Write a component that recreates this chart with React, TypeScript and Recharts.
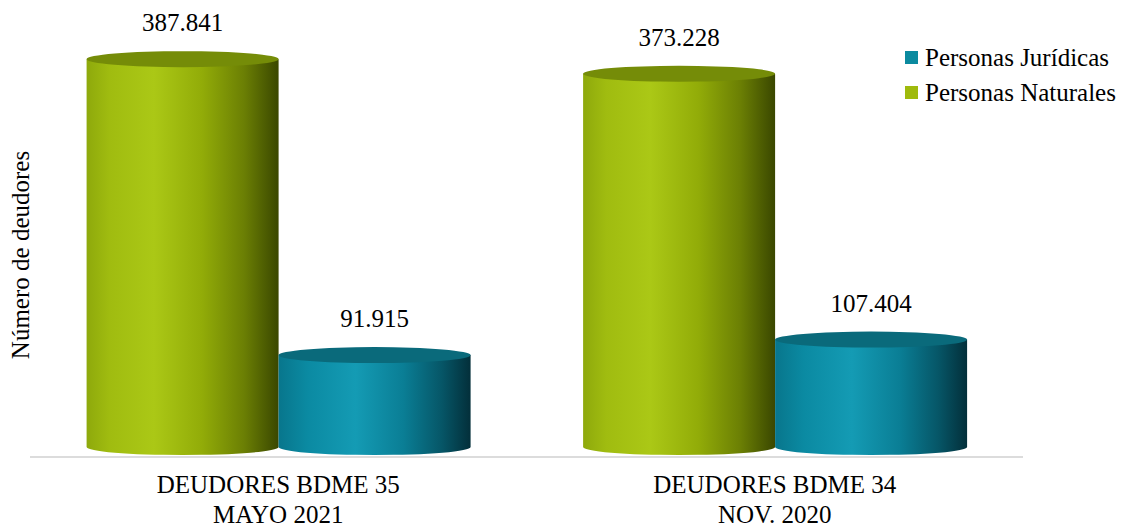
import React from 'react'
import { BarChart, Bar, XAxis, YAxis, LabelList, Legend } from 'recharts'

const categoryLine1 = ['DEUDORES BDME 35', 'DEUDORES BDME 34']
const categoryLine2 = ['MAYO 2021', 'NOV. 2020']
const personasNaturales = [387841, 373228]
const personasJuridicas = [91915, 107404]
const legendOrder = ['Personas Jurídicas', 'Personas Naturales']

const data = categoryLine1.map((c, i) => ({
  name: c + '\n' + categoryLine2[i],
  naturales: personasNaturales[i],
  juridicas: personasJuridicas[i]
}))

const FONT = '"Liberation Serif", "Times New Roman", serif'

const fmt = (v: number) => String(v).replace(/\B(?=(\d{3})+(?!\d))/g, '.')

// cilindro: cuerpo con degradado + tapa eliptica
const Cylinder = (props: any) => {
  const { x, y, width, height, gradId, topColor } = props
  const ry = 8
  const rx = width / 2
  const bottom = y + height
  const d = `M${x},${y} L${x},${bottom} A${rx},${ry} 0 0 0 ${x + width},${bottom} L${x + width},${y} Z`
  return (
    <g>
      <path d={d} fill={`url(#${gradId})`} />
      <ellipse cx={x + rx} cy={y} rx={rx} ry={ry} fill={topColor} />
    </g>
  )
}

const CategoryTick = (props: any) => {
  const { x, y, payload } = props
  const [l1, l2] = String(payload.value).split('\n')
  return (
    <text x={x} y={y} textAnchor="middle" style={{ fontFamily: FONT, fontSize: 25 }} fill="#000">
      <tspan x={x} dy={36}>{l1}</tspan>
      <tspan x={x} dy={30}>{l2}</tspan>
    </text>
  )
}

const LegendContent = (props: any) => {
  const items = [...(props.payload || [])].sort(
    (a: any, b: any) => legendOrder.indexOf(a.value) - legendOrder.indexOf(b.value)
  )
  return (
    <div style={{ fontFamily: FONT, fontSize: 25, color: '#000', whiteSpace: 'nowrap' }}>
      {items.map((it: any) => (
        <div key={it.value} style={{ display: 'flex', alignItems: 'center', height: 35 }}>
          <span style={{ width: 13, height: 13, background: it.color, display: 'inline-block', marginRight: 7 }} />
          <span>{it.value}</span>
        </div>
      ))}
    </div>
  )
}

const YLabel = (props: any) => {
  const { viewBox } = props
  const cx = viewBox.x + 20
  const cy = viewBox.y + viewBox.height / 2 + 23
  return (
    <text x={cx} y={cy} transform={`rotate(-90, ${cx}, ${cy})`} textAnchor="middle" dominantBaseline="central"
      style={{ fontFamily: FONT, fontSize: 25 }} fill="#000">
      Número de deudores
    </text>
  )
}

export default function App() {
  return (
    <div style={{ position: 'absolute', left: 0, top: 0, background: '#fff' }}>
      <BarChart width={1125} height={529} data={data} barCategoryGap="11.4%" barGap={0}
        margin={{ top: 7, right: 102, left: 0, bottom: 0 }}>
        <defs>
          <linearGradient id="gradGreen" x1="0" y1="0" x2="1" y2="0">
            <stop offset="0%" stopColor="#8ea90c" />
            <stop offset="12%" stopColor="#a0bc10" />
            <stop offset="35%" stopColor="#abc816" />
            <stop offset="60%" stopColor="#92ac08" />
            <stop offset="82%" stopColor="#6b7f04" />
            <stop offset="100%" stopColor="#3a4700" />
          </linearGradient>
          <linearGradient id="gradTeal" x1="0" y1="0" x2="1" y2="0">
            <stop offset="0%" stopColor="#08768c" />
            <stop offset="15%" stopColor="#0b8aa2" />
            <stop offset="40%" stopColor="#149bb4" />
            <stop offset="65%" stopColor="#0a7e95" />
            <stop offset="85%" stopColor="#065667" />
            <stop offset="100%" stopColor="#032f3a" />
          </linearGradient>
        </defs>
        <XAxis dataKey="name" height={72} tick={<CategoryTick />} tickLine={false} tickSize={0} tickMargin={0}
          axisLine={{ stroke: '#dcdcdc', strokeWidth: 2 }} interval={0} />
        <YAxis width={30} domain={[-10000, 440000]} tick={false} tickLine={false} axisLine={false}
          label={<YLabel />} />
        <Legend verticalAlign="middle" align="center" layout="horizontal" content={<LegendContent />}
          wrapperStyle={{ left: 905, top: 40, width: 220 }} />
        <Bar dataKey="naturales" name="Personas Naturales" fill="#9fba0c" isAnimationActive={false}
          shape={<Cylinder gradId="gradGreen" topColor="#758c08" />}>
          <LabelList dataKey="naturales" position="top" offset={28} formatter={(v: any) => fmt(v)}
            style={{ fontFamily: FONT, fontSize: 25, fill: '#000' }} />
        </Bar>
        <Bar dataKey="juridicas" name="Personas Jurídicas" fill="#0b8a9f" isAnimationActive={false}
          shape={<Cylinder gradId="gradTeal" topColor="#0a6a7b" />}>
          <LabelList dataKey="juridicas" position="top" offset={28} formatter={(v: any) => fmt(v)}
            style={{ fontFamily: FONT, fontSize: 25, fill: '#000' }} />
        </Bar>
      </BarChart>
    </div>
  )
}
